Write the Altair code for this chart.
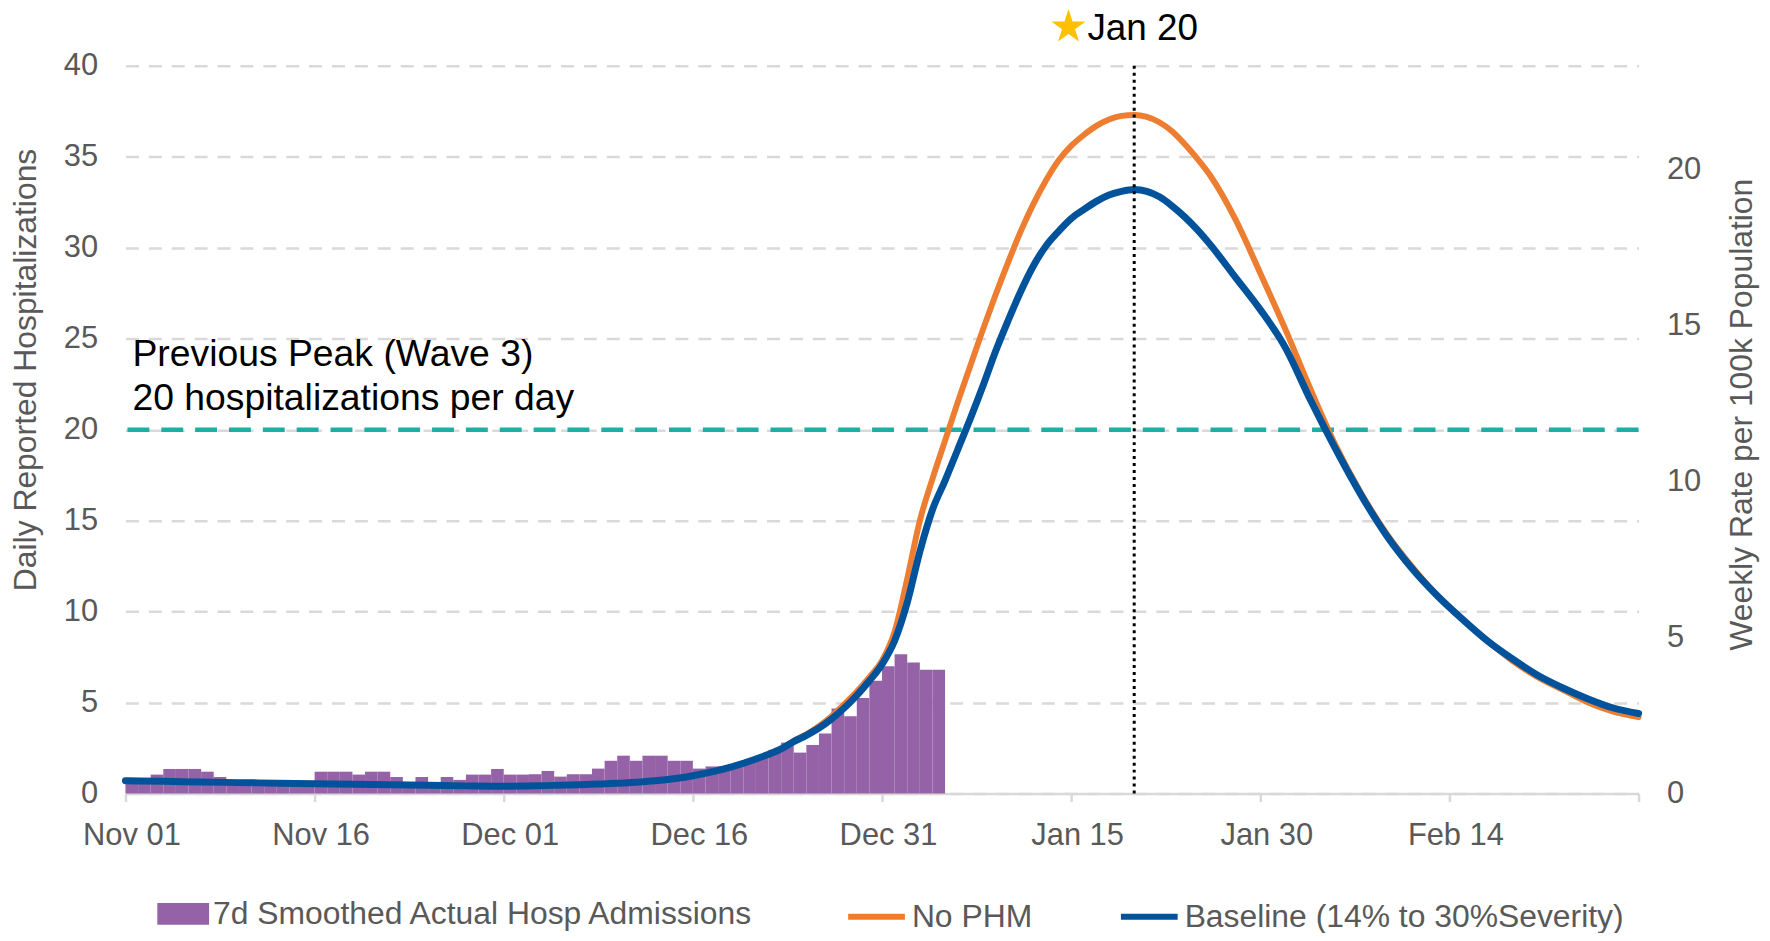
import altair as alt
import pandas as pd

# ---------------- data ----------------
start_date = "2021-11-01"
end_date = "2022-03-01"

bar_label = "7d Smoothed Actual Hosp Admissions"
nophm_label = "No PHM"
baseline_label = "Baseline (14% to 30%Severity)"

# daily bars, Nov 01 .. Jan 04
bar_values = [0.8, 0.8, 1.04, 1.35, 1.35, 1.35, 1.2, 0.91, 0.6, 0.6,
              0.6, 0.6, 0.6, 0.6, 0.6, 1.2, 1.2, 1.2, 1.04, 1.2,
              1.2, 0.91, 0.6, 0.91, 0.6, 0.91, 0.75, 1.04, 1.04, 1.35,
              1.04, 1.04, 1.06, 1.24, 0.93, 1.06, 1.06, 1.37, 1.8, 2.08,
              1.8, 2.08, 2.08, 1.8, 1.8, 1.37, 1.49, 1.5, 1.6, 1.8,
              2.08, 2.4, 2.8, 2.25, 2.67, 3.3, 4.67, 4.25, 5.25, 6.2,
              7.0, 7.65, 7.2, 6.8, 6.8]

# model curves: day offsets from Nov 01 and values
curve_days = [0, 3, 6, 9, 12, 15, 18, 21, 24, 27, 30, 33, 36, 39, 42, 45, 48, 50, 52,
              53, 54, 55, 56, 57, 58, 59, 60, 61, 62,
              63, 64, 65, 66, 67, 68, 69, 70, 71, 72,
              73, 74, 75, 76, 77, 78, 79, 80, 81, 82,
              83, 84, 85, 86,
              88, 90, 92, 94, 96, 98, 100, 102, 104, 106, 108, 110, 112, 114, 116, 118, 120]

baseline_values = [0.70, 0.67, 0.63, 0.60, 0.57, 0.54, 0.51, 0.48, 0.45, 0.42, 0.40, 0.43, 0.48, 0.56, 0.70, 0.98, 1.45, 1.9, 2.45,
                   2.85, 3.2, 3.6, 4.1, 4.7, 5.4, 6.2, 7.1, 8.4, 10.5,
                   13.3, 15.6, 17.2, 18.9, 20.6, 22.4, 24.3, 26.0, 27.6, 29.0,
                   30.1, 30.9, 31.6, 32.1, 32.55, 32.9, 33.1, 33.2, 33.1, 32.8,
                   32.3, 31.7, 31.0, 30.2,
                   28.4, 26.6, 24.5, 21.6, 18.9, 16.4, 14.2, 12.4, 10.9, 9.6, 8.4, 7.4, 6.5, 5.8, 5.2, 4.7, 4.4]

nophm_values = [0.70, 0.67, 0.63, 0.60, 0.57, 0.54, 0.51, 0.48, 0.45, 0.42, 0.40, 0.43, 0.48, 0.56, 0.70, 0.98, 1.45, 1.9, 2.45,
                2.9, 3.25, 3.7, 4.25, 4.9, 5.6, 6.4, 7.3, 8.9, 11.8,
                15.0, 17.3, 19.4, 21.5, 23.5, 25.5, 27.4, 29.2, 30.9, 32.4,
                33.7, 34.8, 35.6, 36.2, 36.7, 37.05, 37.25, 37.3, 37.2, 36.9,
                36.4, 35.7, 34.9, 34.0,
                31.6, 28.6, 25.5, 22.2, 19.1, 16.5, 14.3, 12.5, 10.9, 9.6, 8.4, 7.3, 6.4, 5.7, 5.0, 4.5, 4.2]

x_tick_dates = [(2021, 11, 1), (2021, 11, 16), (2021, 12, 1), (2021, 12, 16), (2021, 12, 31),
                (2022, 1, 15), (2022, 1, 30), (2022, 2, 14), (2022, 3, 1)]
y_ticks = [0, 5, 10, 15, 20, 25, 30, 35, 40]
right_ticks = [0, 5, 10, 15, 20]
y_domain = [0, 40]
right_domain = [0, 23.333]

prev_peak = 20
prev_peak_lines = ["Previous Peak (Wave 3)", "20 hospitalizations per day"]
peak_date = "2022-01-20T00:00:00"
peak_label = "Jan 20"

left_title = "Daily Reported Hospitalizations"
right_title = "Weekly Rate per 100k Population"

# ---------------- tables ----------------
t0 = pd.Timestamp(start_date)
fmt = "%Y-%m-%dT%H:%M:%S"
bdates = t0 + pd.to_timedelta(list(range(len(bar_values))), unit="D")
df_bars = pd.DataFrame({
    "start": bdates.strftime(fmt),
    "end": (bdates + pd.Timedelta(days=1)).strftime(fmt),
    "value": bar_values,
    "series": bar_label,
})
cdates = (t0 + pd.to_timedelta(curve_days, unit="D")).strftime(fmt)
df_lines = pd.concat([
    pd.DataFrame({"date": cdates, "value": nophm_values, "series": nophm_label}),
    pd.DataFrame({"date": cdates, "value": baseline_values, "series": baseline_label}),
])
df_prev = pd.DataFrame({"date": [t0.strftime(fmt)], "y": [prev_peak]})
df_peak = pd.DataFrame({"date": [peak_date], "top": [y_domain[1]]})
df_right = pd.DataFrame({"rate": right_domain})

# ---------------- styling ----------------
FONT = "Liberation Sans"
GREY = "#595959"
GRID = "#D9D9D9"
PURPLE = "#9562A8"
ORANGE = "#ED7D31"
BLUE = "#00539B"
TEAL = "#1AB0A3"
STAR = "M0,-1L0.2245,-0.309L0.9511,-0.309L0.3633,0.118L0.5878,0.809L0,0.382L-0.5878,0.809L-0.3633,0.118L-0.9511,-0.309L-0.2245,-0.309Z"

xs = alt.Scale(domain=[alt.DateTime(year=2021, month=11, date=1),
                       alt.DateTime(year=2022, month=3, date=1)])
x_axis = alt.Axis(
    values=[alt.DateTime(year=a, month=b, date=c) for a, b, c in x_tick_dates],
    labelExpr="month(datum.value) == 2 ? '' : timeFormat(datum.value, '%b %d')",
    title=None, grid=False, domainColor=GRID, domainWidth=2.5,
    tickColor=GRID, tickWidth=2.5, tickSize=8,
    labelFontSize=31, labelColor=GREY, labelPadding=19, labelOffset=6,
    labelFlush=False, labelOverlap=False,
)

ys = alt.Scale(domain=y_domain, nice=False)
y_axis = alt.Axis(
    values=y_ticks, title=left_title, grid=True, gridDash=[13, 10], gridColor=GRID,
    gridWidth=2.5, domain=False, ticks=False, labelPadding=28, labelFontSize=31,
    labelColor=GREY, titleFontSize=32, titleColor=GREY, titleFontWeight="normal",
    titlePadding=21, titleY=305,
)


def X(field):
    return alt.X(f"{field}:T", scale=xs, axis=x_axis)


def Y(field):
    return alt.Y(f"{field}:Q", scale=ys, axis=y_axis)


stroke_scale = alt.Scale(domain=[nophm_label, baseline_label], range=[ORANGE, BLUE])
stroke_legend = alt.Legend(
    title=None, orient="none", legendX=723, legendY=823, direction="horizontal",
    symbolType="M-1,0H1", symbolSize=3249, symbolStrokeWidth=6,
    labelFontSize=32, labelColor=GREY, labelOffset=4, labelLimit=1000,
    columnPadding=77, padding=0,
)
fill_legend = alt.Legend(
    title=None, orient="none", legendX=32, legendY=826,
    symbolType="M-1,-0.42H1V0.42H-1Z", symbolSize=2704, symbolStrokeWidth=0,
    labelFontSize=32, labelColor=GREY, labelOffset=4, labelLimit=1000, padding=0,
)

teal = alt.Chart(df_prev).mark_rule(color=TEAL, strokeWidth=4.5, strokeDash=[22, 12]).encode(
    y=Y("y"))

bars = alt.Chart(df_bars).mark_rect().encode(
    x=X("start"), x2="end:T", y=Y("value"), y2=alt.datum(0),
    fill=alt.Fill("series:N", scale=alt.Scale(domain=[bar_label], range=[PURPLE]), legend=fill_legend),
)

orange = alt.Chart(df_lines).transform_filter(alt.datum.series == nophm_label).mark_line(
    strokeWidth=6, interpolate="monotone", strokeCap="round").encode(
    x=X("date"), y=Y("value"),
    stroke=alt.Stroke("series:N", scale=stroke_scale, legend=stroke_legend),
)
blue = alt.Chart(df_lines).transform_filter(alt.datum.series == baseline_label).mark_line(
    strokeWidth=7, interpolate="monotone", strokeCap="round").encode(
    x=X("date"), y=Y("value"),
    stroke=alt.Stroke("series:N", scale=stroke_scale, legend=stroke_legend),
)

peak_rule = alt.Chart(df_peak).mark_rule(color="black", strokeWidth=3, strokeDash=[3, 4]).encode(
    x=X("date"))

star = alt.Chart(df_peak).mark_point(
    shape=STAR, filled=True, color="#FFC000", size=1300, opacity=1, strokeWidth=0,
    xOffset=-66, yOffset=-39).encode(x=X("date"), y=Y("top"))

peak_text = alt.Chart(df_peak).mark_text(
    text=peak_label, align="left", baseline="middle", fontSize=37, color="black",
    dx=-47, dy=-37).encode(x=X("date"), y=Y("top"))

note1 = alt.Chart(df_prev).mark_text(
    text=prev_peak_lines[0], align="left", baseline="middle", fontSize=37.5, color="black",
    dx=7, dy=-75).encode(x=X("date"), y=Y("y"))
note2 = alt.Chart(df_prev).mark_text(
    text=prev_peak_lines[1], align="left", baseline="middle", fontSize=37.5, color="black",
    dx=7, dy=-31).encode(x=X("date"), y=Y("y"))

left = alt.layer(teal, bars, orange, blue, peak_rule, star, peak_text, note1, note2)

right = alt.Chart(df_right).mark_point(opacity=0).encode(
    y=alt.Y("rate:Q", scale=alt.Scale(domain=right_domain, nice=False),
            axis=alt.Axis(orient="right", values=right_ticks, title=right_title, grid=False,
                          domain=False, ticks=False, labelPadding=28, labelFontSize=31,
                          labelColor=GREY, titleFontSize=32, titleColor=GREY,
                          titleFontWeight="normal", titleAngle=270, titleBaseline="top",
                          titlePadding=26, titleY=350)))

chart = alt.layer(left, right).resolve_scale(y="independent").properties(
    width=1520, height=731,
    autosize=alt.AutoSizeParams(type="none"),
    padding={"left": 118, "top": 56, "right": 124, "bottom": 138},
).configure(font=FONT).configure_view(strokeWidth=0)

chart.save("out.html", embed_options={"renderer": "svg", "actions": False})
